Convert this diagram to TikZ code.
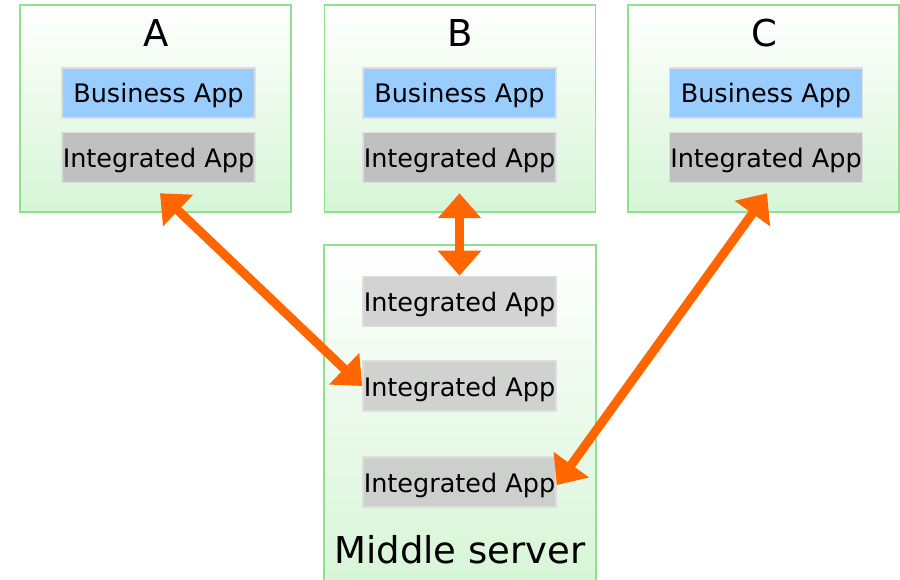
\documentclass[tikz,border=0pt]{standalone}
\usepackage{fontspec}
\setmainfont{DejaVu Sans}
\usetikzlibrary{arrows.meta}
\definecolor{boxgreen}{RGB}{214,245,214}
\definecolor{boxline}{RGB}{144,224,144}
\definecolor{bizblue}{RGB}{153,204,255}
\definecolor{intgray}{RGB}{192,192,192}
\definecolor{midgrayA}{RGB}{211,211,211}
\definecolor{midgrayB}{RGB}{208,210,208}
\definecolor{midgrayC}{RGB}{204,208,204}
\definecolor{edgegray}{RGB}{222,222,222}
\definecolor{linkorange}{RGB}{255,102,0}

\begin{document}
\begin{tikzpicture}[x=1pt,y=-1pt,
  host/.style={draw=boxline, line width=1.2pt, top color=white, bottom color=boxgreen,
    inner sep=0pt, minimum width=271pt},
  app/.style={draw=edgegray, line width=1.5pt, minimum width=193pt, minimum height=50pt,
    inner sep=0pt, text height=35pt, text depth=15pt,
    font=\fontsize{25.5}{29}\selectfont},
  bizapp/.style={app, fill=bizblue},
  intapp/.style={app, fill=intgray},
  title/.style={font=\fontsize{37}{42}\selectfont, anchor=base, inner sep=0pt},
  link/.style={draw=linkorange, line width=9pt,
    {Triangle[width=42pt,length=25pt]}-{Triangle[width=42pt,length=25pt]}},
]
\useasboundingbox (0,0) rectangle (900,580);

% host machines
\node[host, minimum height=207pt] (hostA) at (155.5,108.5) {};
\node[host, minimum height=207pt] (hostB) at (460,108.5) {};
\node[host, minimum height=207pt] (hostC) at (763.5,108.5) {};
\node[host, minimum width=272pt, minimum height=345pt] (hostM) at (460,417.5) {};

% titles
\node[title] (tA) at (156,47) {A};
\node[title] (tB) at (460,47) {B};
\node[title] (tC) at (764,47) {C};
\node[title] (tM) at (460,563) {Middle server};

% applications on each host
\node[bizapp] (aBiz) at (158.5,93) {Business App};
\node[intapp] (aInt) at (158.5,157.5) {Integrated App};
\node[bizapp] (bBiz) at (459.5,93) {Business App};
\node[intapp] (bInt) at (459.5,157.5) {Integrated App};
\node[bizapp] (cBiz) at (766,93) {Business App};
\node[intapp] (cInt) at (766,157.5) {Integrated App};

% integration apps on the middle server
\node[app, fill=midgrayA] (m1) at (459.5,301.5) {Integrated App};
\node[app, fill=midgrayB] (m2) at (459.5,386) {Integrated App};
\node[app, fill=midgrayC] (m3) at (459.5,482) {Integrated App};

% links
\draw[link] ([xshift=1.5pt,yshift=-10pt]aInt.south) -- (m2.west);
\draw[link] ([yshift=-10pt]bInt.south) -- (m1.north);
\draw[link] ([xshift=1pt,yshift=-10pt]cInt.south) -- ([yshift=-3pt]m3.east);
\end{tikzpicture}
\end{document}
